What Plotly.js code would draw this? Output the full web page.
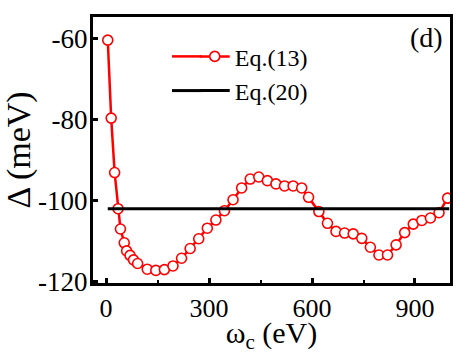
<!DOCTYPE html>
<html>
<head>
<meta charset="utf-8">
<script src="https://cdn.plot.ly/plotly-3.0.1.min.js"></script>
<style>html,body{margin:0;padding:0;background:#fff;}#chart{width:472px;height:354px;}</style>
</head>
<body>
<div id="chart"></div>
<script>
// Eq.(13) data: omega_c (eV) vs Delta (meV)
var omegaC = [5,15,25,35,42,53,60,70,80,92,120,145,170,195,220,245,270,295,320,345,370,395,420,445,470,495,520,545,570,590,620,645,670,695,720,745,770,795,820,845,870,895,920,945,970,995];
var delta13 = [-60.5,-79.7,-93.1,-102,-107,-110.4,-112.4,-113.5,-114.6,-115.5,-116.9,-117.2,-117,-116.1,-114.2,-111.8,-109.4,-106.8,-104.8,-102.5,-99.8,-96.9,-94.7,-94.2,-95.1,-95.9,-96.4,-96.4,-96.9,-99.2,-102.7,-105.6,-107.6,-108,-108.2,-109.3,-111.5,-113.4,-113.4,-110.9,-107.9,-105.8,-104.9,-104.3,-103,-99.4];
// Eq.(20): constant
var omega20 = [5, 1000];
var delta20 = [-102, -102];
var xTicks = [0, 300, 600, 900];
var yTicks = [-60, -80, -100, -120];

var font = '"Liberation Serif", "Times New Roman", serif';
var W = 472, H = 354, ML = 93, MR = 22, MT = 17, MB = 71;

var traces = [
  {x: omegaC, y: delta13, type: 'scatter', mode: 'lines+markers', name: 'Eq.(13)',
   legendgroup: 'a',
   line: {color: '#ff0000', width: 2.5},
   marker: {symbol: 'circle', size: 10, color: '#ffffff', line: {color: '#ff0000', width: 1.6}}},
  {x: omega20, y: delta20, type: 'scatter', mode: 'lines', name: 'Eq.(20)',
   legendgroup: 'b',
   line: {color: '#000000', width: 3}}
];

var layout = {
  width: W, height: H,
  margin: {l: ML, r: MR, t: MT, b: MB},
  paper_bgcolor: '#ffffff', plot_bgcolor: '#ffffff',
  font: {family: font, color: '#000', size: 26},
  showlegend: true,
  legend: {x: 0.285, y: 0.935, xanchor: 'left', yanchor: 'top', bgcolor: 'rgba(0,0,0,0)',
           font: {family: font, size: 24, color: '#000'}, tracegroupgap: 0},
  xaxis: {range: [-38, 1002], tickvals: xTicks, ticktext: xTicks.map(String),
          ticks: 'inside', ticklen: 5, tickwidth: 3, tickcolor: '#000',
          minor: {tickvals: [150, 450, 750], ticks: 'inside', ticklen: 3, tickwidth: 2, tickcolor: '#000'},
          showline: true, linewidth: 3, linecolor: '#000', mirror: true,
          showgrid: false, zeroline: false,
          tickfont: {family: font, size: 26, color: '#000'},
          title: {text: 'ω<sub>c</sub> (eV)', font: {family: font, size: 30, color: '#000'}, standoff: 9}},
  yaxis: {range: [-120.3, -54.8], tickvals: yTicks, ticktext: yTicks.map(String),
          ticks: 'inside', ticklen: 5, tickwidth: 3, tickcolor: '#000',
          showline: true, linewidth: 3, linecolor: '#000', mirror: true,
          showgrid: false, zeroline: false, ticklabelstandoff: -3,
          tickfont: {family: font, size: 27, color: '#000'},
          title: {text: 'Δ (meV)', font: {family: font, size: 34, color: '#000'}, standoff: 0}},
  annotations: [
    {text: '(d)', xref: 'paper', yref: 'paper', x: 0.985, y: 0.99, xanchor: 'right', yanchor: 'top',
     showarrow: false, font: {family: font, size: 28, color: '#000'}}
  ]
};

var gd = document.getElementById('chart');
Plotly.newPlot(gd, traces, layout, {displayModeBar: false, staticPlot: true}).then(function () {
  // lengthen the legend sample lines to the left, matching the reference's long legend strokes
  var box = gd.getBoundingClientRect();
  var lines = gd.querySelectorAll('.legend .traces .legendlines path');
  var cols = ['#ff0000', '#000000'], widths = [2.5, 3];
  var shapes = [];
  for (var i = 0; i < lines.length && i < 2; i++) {
    var r = lines[i].getBoundingClientRect();
    var yc = r.top + r.height / 2 - box.top;
    var xl = r.left - box.left;
    var py = (H - MB - yc) / (H - MT - MB);
    shapes.push({type: 'line', xref: 'paper', yref: 'paper',
      x0: (172 - ML) / (W - ML - MR), x1: (xl + 2 - ML) / (W - ML - MR), y0: py, y1: py,
      line: {color: cols[i], width: widths[i]}});
  }
  return Plotly.relayout(gd, {shapes: shapes});
});
</script>
</body>
</html>
